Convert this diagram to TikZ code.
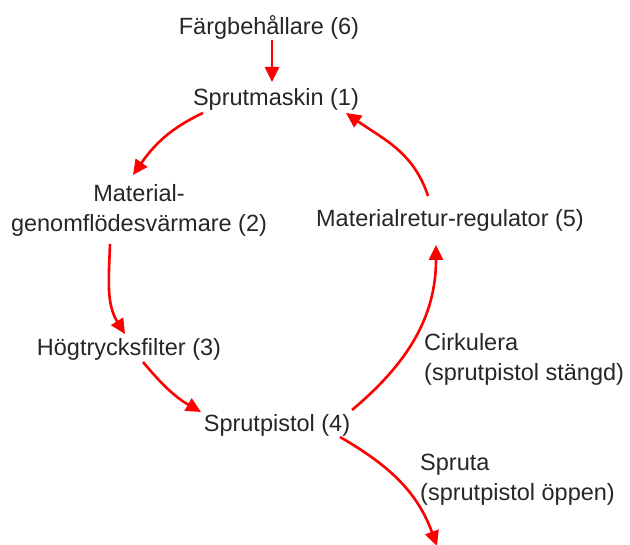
\documentclass[tikz,border=0pt]{standalone}
\usepackage{fontspec}
\setmainfont{Liberation Sans}
\usetikzlibrary{arrows.meta,calc}
\begin{document}
\begin{tikzpicture}[x=1pt,y=-1pt,
  lbl/.style={inner sep=0pt,font=\fontsize{23.5}{30}\selectfont,text=black!85,align=center},
  side/.style={lbl,align=left,anchor=west},
  flow/.style={draw=red,line width=2.6pt,-{Triangle[length=15pt,width=14pt]}}]
\useasboundingbox (0,0) rectangle (630,545);
\node[lbl] (n6) at (269,27) {Färgbehållare (6)};
\node[lbl] (n1) at (276,99) {Sprutmaskin (1)};
\node[lbl] (n2) at (139,210) {Material-\\genomflödesvärmare (2)};
\node[lbl] (n3) at (129,349) {Högtrycksfilter (3)};
\node[lbl] (n4) at (277,425) {Sprutpistol (4)};
\node[lbl] (n5) at (450,220) {Materialretur-regulator (5)};
\node[side] (c) at (424,359) {Cirkulera\\(sprutpistol stängd)};
\node[side] (s) at (420,480) {Spruta\\(sprutpistol öppen)};
\coordinate (out) at (437,546);
\draw[flow] ($(n6)+(3,13)$) -- ($(n1)+(-4,-17)$);
\draw[flow] ($(n1)+(-73,14)$) to[out=205,in=55] ($(n2)+(-6,-35)$);
\draw[flow] ($(n2)+(-29,34)$) to[out=268,in=122] ($(n3)+(-4,-15)$);
\draw[flow] ($(n3)+(14,13)$) to[out=-50,in=150] ($(n4)+(-76,-13)$);
\draw[flow] ($(n4)+(75,-15)$) to[out=40,in=270] ($(n5)+(-14,25)$);
\draw[flow] ($(n5)+(-22,-24)$) to[out=108,in=-35] ($(n1)+(70,14)$);
\draw[flow] ($(n4)+(63,12)$) to[out=-30,in=110] (out);
\end{tikzpicture}
\end{document}
